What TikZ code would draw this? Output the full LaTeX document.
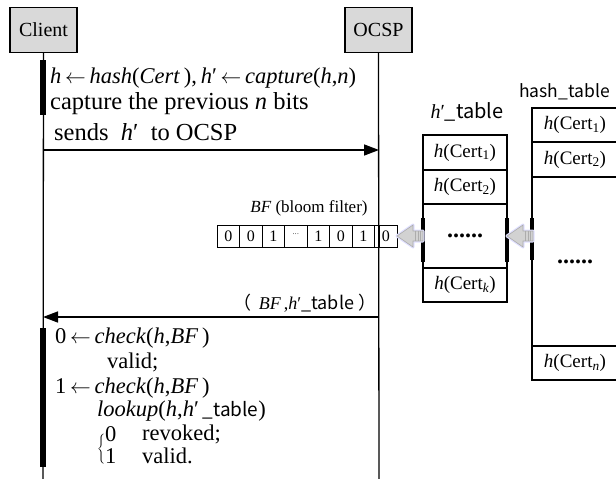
\documentclass[tikz,border=0pt]{standalone}
\usepackage{fontspec}
\setmainfont{Liberation Serif}
\newfontfamily\cjk{Noto Sans CJK SC}
\usetikzlibrary{arrows.meta}
\newcommand{\hpr}{\textit{h}′}
\newcommand{\larr}{\,$\leftarrow$\,}
\newcommand{\tbl}{{\cjk\fontsize{19}{20}\selectfont\_table}}
\begin{document}
\begin{tikzpicture}[x=1pt,y=-1pt,
  actor/.style={draw, line width=1.2pt, fill=gray!30, minimum width=67pt, minimum height=45pt, inner sep=0pt, font=\fontsize{20}{24}\selectfont},
  lifeline/.style={line width=1.3pt},
  msg/.style={line width=1.5pt, -{Triangle[length=15pt,width=11pt]}},
  txt/.style={anchor=west, inner sep=0pt, font=\fontsize{24.5}{28}\selectfont},
  txtsm/.style={anchor=west, inner sep=0pt, font=\fontsize{22.5}{26}\selectfont},
  cell/.style={draw, line width=1.1pt, inner sep=0pt, font=\fontsize{19}{22}\selectfont},
  dots/.style={font=\fontsize{24}{26}\selectfont\bfseries},
  bit/.style={draw, line width=1pt, minimum width=22.5pt, minimum height=22pt, inner sep=0pt, font=\fontsize{16}{18}\selectfont},
  blockarrow/.style={fill=gray!35, draw=gray!65, line width=0.6pt},
  glow/.style={draw=blue!12, line width=3pt, line join=round},
  edgebar/.style={line width=3.5pt},
]
\useasboundingbox (0,0) rectangle (616,479);

% actors and lifelines
\node[actor] (client) at (43.5,30) {Client};
\node[actor] (ocsp) at (378.5,30) {OCSP};
\coordinate (cEnd) at (43,479);
\coordinate (oEnd) at (379,479);
\draw[lifeline] (client.south) -- (cEnd);
\draw[lifeline] (ocsp.south) -- (oEnd);

% activation bars on the client lifeline
\fill (39.5,60) rectangle (46,115);
\fill (39.5,328) rectangle (46,467);

% request from the client
\node[txtsm] (t1) at (50,78) {\textit{h}\larr\textit{hash}(\textit{Cert}\,),\,\hpr\larr\textit{capture}(\textit{h},\textit{n})};
\node[txt] (t2) at (50,104) {capture the previous \textit{n} bits};
\node[txt] (t3) at (54,132) {sends\ \ \hpr\ \ to OCSP};
\coordinate (m1s) at (43,150);
\coordinate (m1e) at (379,150);
\draw[msg] (m1s) -- (m1e);

% h'_table
\node[font=\fontsize{20}{24}\selectfont, inner sep=0pt] (hlab) at (467,112) {\hpr{\cjk\_table}};
\node[cell, minimum width=84pt, minimum height=35pt] (h1) at (465,152.5) {\textit{h}(Cert\textsubscript{1})};
\node[cell, minimum width=84pt, minimum height=34pt] (h2) at (465,187) {\textit{h}(Cert\textsubscript{2})};
\node[cell, minimum width=84pt, minimum height=64pt, dots] (h3) at (465,236) {......};
\node[cell, minimum width=84pt, minimum height=34pt] (h4) at (465,285) {\textit{h}(Cert\textsubscript{\textit{k}})};
\draw[edgebar] (423,218) -- (423,262);
\draw[edgebar] (507,218) -- (507,262);

% hash_table
\node[anchor=west, inner sep=0pt, font=\cjk\fontsize{17.5}{20}\selectfont] (glab) at (519,92) {hash\_table};
\node[cell, minimum width=86pt, minimum height=34pt] (g1) at (575,125) {\textit{h}(Cert\textsubscript{1})};
\node[cell, minimum width=86pt, minimum height=35pt] (g2) at (575,159.5) {\textit{h}(Cert\textsubscript{2})};
\node[cell, minimum width=86pt, minimum height=169pt, dots] (g3) at (575,261.5) {......};
\node[cell, minimum width=86pt, minimum height=34pt] (g4) at (575,363) {\textit{h}(Cert\textsubscript{\textit{n}})};
\draw[edgebar] (532,218) -- (532,260);

% bloom filter array
\node[font=\fontsize{17}{20}\selectfont, inner sep=0pt] (bflab) at (309,208) {\textit{BF} (bloom filter)};
\foreach \v [count=\i from 0] in {0,0,1,{\raisebox{2pt}{\scriptsize···}},1,0,1,0}
  \node[bit] (b\i) at (228.25+22.5*\i,236) {\v};
\draw[lifeline] (379,225) -- (379,247);

% block arrows: hash_table -> h'_table -> BF
\foreach \dx in {0,110}{
  \begin{scope}[shift={(\dx,0)}]
    \draw[glow] (397,236) -- (413,225) -- (413,231) -- (423,231) -- (423,241) -- (413,241) -- (413,247) -- cycle;
    \draw[blockarrow] (397,236) -- (413,225) -- (413,231) -- (423,231) -- (423,241) -- (413,241) -- (413,247) -- cycle;
    \foreach \x in {415.5,418,420.5}
      \draw[gray!65, line width=0.6pt] (\x,231) -- (\x,241);
  \end{scope}
}

% response from OCSP
\node[font=\fontsize{18}{22}\selectfont, inner sep=0pt] (rlab) at (305,303) {{\cjk（}\hspace{7pt}\textit{BF}\,,\hpr{\cjk\_table}\hspace{4pt}{\cjk）}};
\coordinate (m2s) at (379,317);
\coordinate (m2e) at (43,317);
\draw[msg] (m2s) -- (m2e);

% client-side check
\node[txtsm] (c1) at (55,338) {0\larr\textit{check}(\textit{h},\textit{BF}\,)};
\node[txtsm] (c2) at (107,362) {valid;};
\node[txtsm] (c3) at (55,388) {1\larr\textit{check}(\textit{h},\textit{BF}\,)};
\node[txtsm] (c4) at (97,411) {\textit{lookup}(\textit{h},\hpr\,\tbl)};
\node[anchor=west, inner sep=0pt] (br) at (97,449) {$\left\{\rule{0pt}{13pt}\rule[-13pt]{0pt}{13pt}\right.$};
\node[txtsm] (d0) at (105,434) {0};
\node[txtsm] (d0t) at (142,434) {revoked;};
\node[txtsm] (d1) at (105,456) {1};
\node[txtsm] (d1t) at (142,456) {valid.};
\end{tikzpicture}
\end{document}
